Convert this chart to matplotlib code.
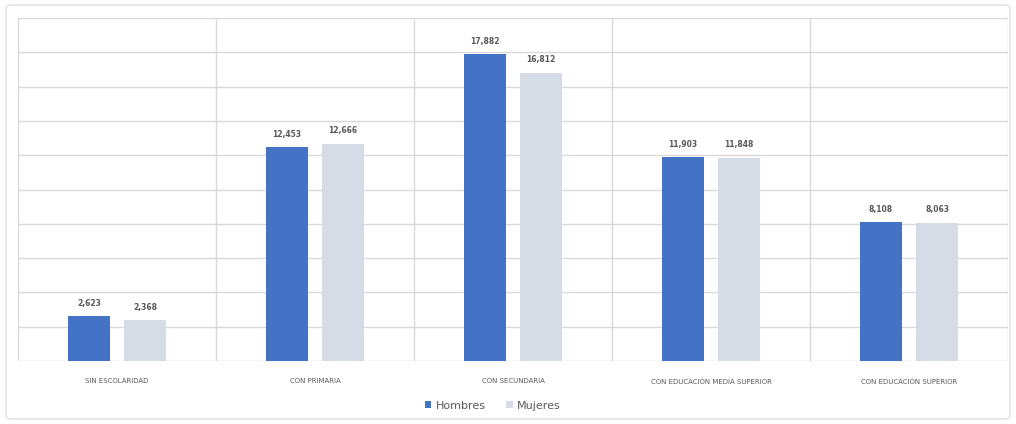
import matplotlib.pyplot as plt
from matplotlib.patches import FancyBboxPatch
import numpy as np

categories = ['SIN ESCOLARIDAD', 'CON PRIMARIA', 'CON SECUNDARIA',
              'CON EDUCACIÓN MEDIA SUPERIOR', 'CON EDUCACIÓN SUPERIOR']
hombres = [2623, 12453, 17882, 11903, 8108]
mujeres = [2368, 12666, 16812, 11848, 8063]

blue = '#4472C4'
grey = '#D6DCE5'
grid = '#D9D9D9'

fig = plt.figure(figsize=(10.16, 4.24), dpi=100)
fig.patch.set_facecolor('white')

# outer chart frame
frame = FancyBboxPatch((0.006, 0.012), 0.988, 0.976, boxstyle='round,pad=0,rounding_size=0.004',
                       transform=fig.transFigure, fill=False, edgecolor='#E4E4E4', lw=1.2)
fig.patches.append(frame)

ax = fig.add_axes([0.0177, 0.1486, 0.9745, 0.8089])
x = np.arange(len(categories))
w = 0.21
off = 0.142
b1 = ax.bar(x - off, hombres, w, color=blue, label='Hombres', zorder=3)
b2 = ax.bar(x + off, mujeres, w, color=grey, label='Mujeres', zorder=3)

for bars, vals in ((b1, hombres), (b2, mujeres)):
    for b, v in zip(bars, vals):
        ax.annotate(f'{v:,}', (b.get_x() + b.get_width() / 2, v), xytext=(0, 6),
                    textcoords='offset points', ha='center', va='bottom',
                    fontsize=5.5, color='#595959', fontweight='bold')

ax.set_xlim(-0.5, len(categories) - 0.5)
ax.set_ylim(0, 20000)
ax.set_yticks(np.arange(0, 20001, 2000))
ax.yaxis.grid(True, color=grid, lw=1, zorder=0)
for xv in np.arange(-0.5, len(categories), 1):
    ax.axvline(xv, color=grid, lw=1, zorder=0)
ax.tick_params(axis='y', left=False, labelleft=False)
ax.tick_params(axis='x', bottom=False, pad=9)
ax.set_xticks(x)
ax.set_xticklabels(categories, fontsize=5, color='#595959')
for s in ax.spines.values():
    s.set_visible(False)

fig.legend(handles=[b1, b2], loc='center', bbox_to_anchor=(0.485, 0.043), ncol=2,
           frameon=False, fontsize=8, labelcolor='#595959', handlelength=0.6,
           handleheight=0.6, handletextpad=0.4, columnspacing=1.8)

fig.savefig('out.png', dpi=100, facecolor='white')
